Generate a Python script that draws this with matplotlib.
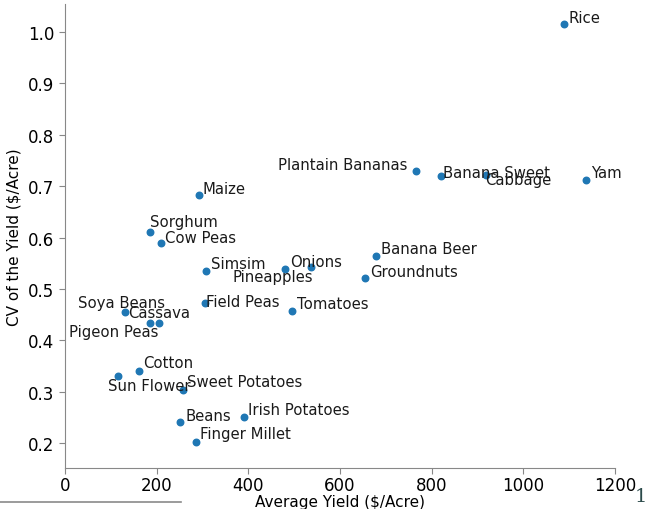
import matplotlib
matplotlib.use("Agg")
import matplotlib.pyplot as plt
from matplotlib.lines import Line2D

# Crop yield statistics
crops = ["Rice", "Yam", "Plantain Bananas", "Banana Sweet", "Cabbage", "Maize",
         "Sorghum", "Cow Peas", "Simsim", "Field Peas", "Onions", "Pineapples",
         "Banana Beer", "Groundnuts", "Tomatoes", "Soya Beans", "Cassava",
         "Pigeon Peas", "Cotton", "Sun Flower", "Sweet Potatoes", "Beans",
         "Irish Potatoes", "Finger Millet"]
avg_yield = [1089, 1137, 766, 820, 919, 292,
             185, 209, 308, 305, 480, 537,
             679, 655, 495, 131, 185,
             206, 161, 115, 258, 251,
             390, 286]
cv_yield = [1.015, 0.712, 0.729, 0.719, 0.722, 0.682,
            0.611, 0.589, 0.536, 0.473, 0.539, 0.543,
            0.564, 0.521, 0.457, 0.455, 0.434,
            0.434, 0.341, 0.331, 0.304, 0.241,
            0.252, 0.203]

# label placement: (dx, dy) in pixels and horizontal alignment
label_pos = {
    "Rice": (4, 7, "left"), "Yam": (5, 7, "left"),
    "Plantain Bananas": (-9, 7, "right"), "Banana Sweet": (2, 4, "left"),
    "Cabbage": (-1, -5, "left"), "Maize": (4, 7, "left"),
    "Sorghum": (0, 10, "left"), "Cow Peas": (4, 6, "left"),
    "Simsim": (5, 7, "left"), "Field Peas": (1, 1, "left"),
    "Onions": (5, 7, "left"), "Pineapples": (2, -10, "right"),
    "Banana Beer": (5, 8, "left"), "Groundnuts": (5, 7, "left"),
    "Tomatoes": (5, 8, "left"), "Soya Beans": (40, 10, "right"),
    "Cassava": (-22, 10, "left"), "Pigeon Peas": (-1, -9, "right"),
    "Cotton": (4, 8, "left"), "Sun Flower": (-10, -10, "left"),
    "Sweet Potatoes": (4, 8, "left"), "Beans": (5, 7, "left"),
    "Irish Potatoes": (4, 7, "left"), "Finger Millet": (4, 8, "left"),
}

fig = plt.figure(figsize=(6.47, 5.10), dpi=100)
ax = fig.add_axes([0.1005, 0.0804, 0.85, 0.9096])

ax.scatter(avg_yield, cv_yield, s=22, color="#1f77b4", zorder=3)
for name, x, y in zip(crops, avg_yield, cv_yield):
    dx, dy, ha = label_pos[name]
    ax.annotate(name, (x, y), xytext=(dx, dy), textcoords="offset pixels",
                ha=ha, va="center", fontsize=10.7, color="#1a1a1a")

ax.set_xlim(0, 1200)
ax.set_ylim(0.152, 1.054)
ax.set_xticks([0, 200, 400, 600, 800, 1000, 1200])
ax.set_yticks([0.2, 0.3, 0.4, 0.5, 0.6, 0.7, 0.8, 0.9, 1.0])
ax.tick_params(labelsize=12, color="#888888", length=4)
ax.tick_params(axis="x", pad=1.5)
ax.set_xlabel("Average Yield ($/Acre)", fontsize=11, labelpad=0.5)
ax.set_ylabel("CV of the Yield ($/Acre)", fontsize=11, labelpad=5)
for side in ("top", "right"):
    ax.spines[side].set_visible(False)
for side in ("left", "bottom"):
    ax.spines[side].set_color("#888888")

# page footer: rule and page number
fig.add_artist(Line2D([0.0, 0.28], [0.014, 0.014], transform=fig.transFigure,
                      color="#8a8a8a", lw=1.2))
fig.text(0.991, 0.025, "1", fontsize=14, color="#2b4a4a", ha="center", va="center",
         family="DejaVu Serif")

fig.savefig("out.png", dpi=100)
